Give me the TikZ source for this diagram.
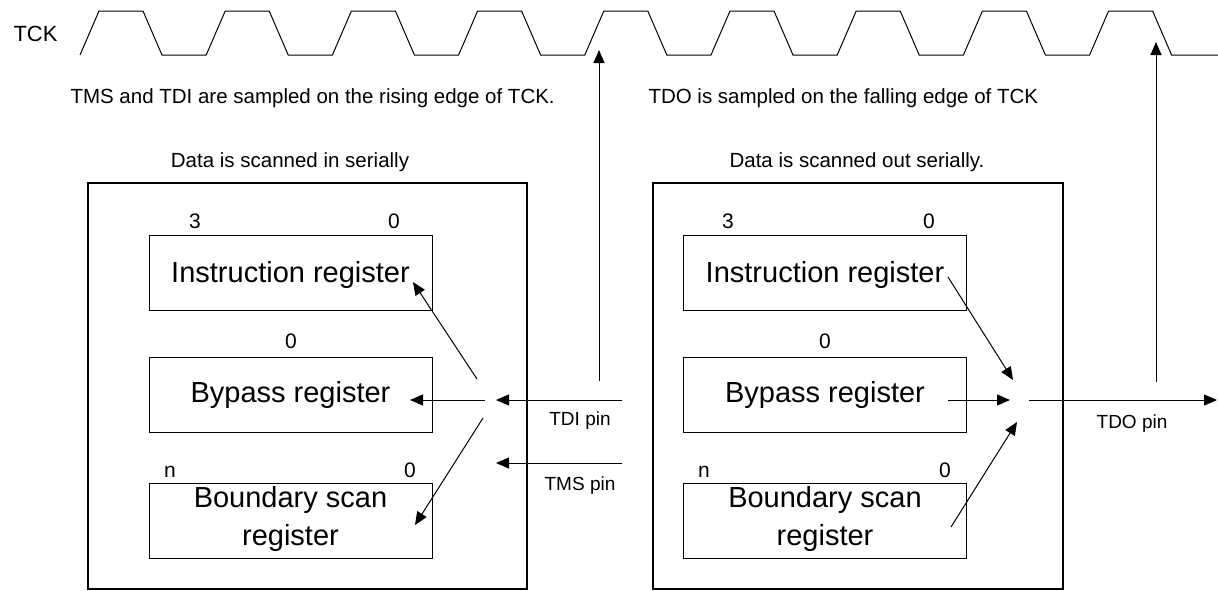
\documentclass[tikz,border=0pt]{standalone}
\usepackage{fontspec}
\setmainfont{Liberation Sans}
\usetikzlibrary{arrows.meta}
\begin{document}
\begin{tikzpicture}[x=1pt,y=-1pt,line width=1pt,
  chip/.style={draw,line width=2pt,inner sep=0pt,anchor=north west,
    minimum width=#1,minimum height=406pt},
  reg/.style={draw,line width=1pt,inner sep=0pt,anchor=north west,
    minimum width=283pt,minimum height=75pt},
  regtext/.style={anchor=base,inner sep=0pt,font=\fontsize{29}{34}\selectfont},
  bitno/.style={anchor=base,inner sep=0pt,font=\fontsize{21}{25}\selectfont},
  note/.style={inner sep=0pt,font=\fontsize{20.5}{24}\selectfont},
  pinlabel/.style={anchor=base,inner sep=0pt,font=\fontsize{19}{22}\selectfont},
  sig/.style={-{Triangle[length=13pt,width=11pt]},line width=1pt}]

% canvas
\fill[white] (0,0) rectangle (1218,590);
\useasboundingbox (0,0) rectangle (1218,590);

% clock waveform
\node[anchor=base west,inner sep=0pt,font=\fontsize{22}{26}\selectfont] (tck) at (13,41) {TCK};
\draw[line width=1pt,line join=miter] (80,55)
  foreach \k in {1,...,9} { -- ++(19,-44) -- ++(44,0) -- ++(19,44) -- ++(44.2,0) }
  -- (1218,55);

% sampling notes
\node[note,anchor=base west] (riseNote) at (70,103) {TMS and TDI are sampled on the rising edge of TCK.};
\node[note,anchor=base west] (fallNote) at (648,103) {TDO is sampled on the falling edge of TCK};

% device boundaries
\node[note,anchor=base] (inNote) at (290,167) {Data is scanned in serially};
\node[note,anchor=base] (outNote) at (857,167) {Data is scanned out serially.};
\node[chip=439pt] (chipL) at (87,182) {};
\node[chip=410pt] (chipR) at (652,182) {};

% registers, input side
\node[reg] (irL) at (149,235) {};
\node[reg] (bpL) at (149,357) {};
\node[reg] (bsL) at (149,483) {};
\node[regtext] (irLt) at (290.5,282) {Instruction register};
\node[regtext] (bpLt) at (290.5,402) {Bypass register};
\node[regtext] (bsLt) at (290.5,507) {Boundary scan};
\node[regtext] (bsLt2) at (290.5,545) {register};
\node[bitno] (irL3) at (195,228) {3};
\node[bitno] (irL0) at (394,228) {0};
\node[bitno] (bpL0) at (291,348) {0};
\node[bitno] (bsLn) at (170,477) {n};
\node[bitno] (bsL0) at (410,477) {0};

% registers, output side
\node[reg] (irR) at (683,235) {};
\node[reg] (bpR) at (683,357) {};
\node[reg] (bsR) at (683,483) {};
\node[regtext] (irRt) at (825,282) {Instruction register};
\node[regtext] (bpRt) at (825,402) {Bypass register};
\node[regtext] (bsRt) at (825,507) {Boundary scan};
\node[regtext] (bsRt2) at (825,545) {register};
\node[bitno] (irR3) at (728,228) {3};
\node[bitno] (irR0) at (929,228) {0};
\node[bitno] (bpR0) at (825,348) {0};
\node[bitno] (bsRn) at (704,477) {n};
\node[bitno] (bsR0) at (945,477) {0};

% connection points
\coordinate (tdiPin) at (622,400);
\coordinate (tdiIn) at (496,400);
\coordinate (tmsPin) at (622,463);
\coordinate (tmsIn) at (496,463);
\coordinate (fanIr) at (477,379);
\coordinate (fanBp) at (485,400);
\coordinate (fanBs) at (483,418);
\coordinate (irLin) at (413,282);
\coordinate (bpLin) at (410,400);
\coordinate (bsLin) at (415,525);
\coordinate (irRout) at (948,277);
\coordinate (bpRout) at (948,400);
\coordinate (bsRout) at (951,527);
\coordinate (mergeIr) at (1013,380);
\coordinate (mergeBp) at (1010,400);
\coordinate (mergeBs) at (1017,422);
\coordinate (tdoOut) at (1029,400);
\coordinate (tdoPin) at (1217,400);
\coordinate (riseFoot) at (599,381);
\coordinate (riseEdge) at (599,50);
\coordinate (fallFoot) at (1156,382);
\coordinate (fallEdge) at (1156,42);

% scan-in paths
\draw[sig] (tdiPin) -- (tdiIn);
\draw[sig] (tmsPin) -- (tmsIn);
\draw[sig] (fanIr) -- (irLin);
\draw[sig] (fanBp) -- (bpLin);
\draw[sig] (fanBs) -- (bsLin);
\node[pinlabel] (tdiLbl) at (580,425) {TDI pin};
\node[pinlabel] (tmsLbl) at (580,490) {TMS pin};

% scan-out paths
\draw[sig] (irRout) -- (mergeIr);
\draw[sig] (bpRout) -- (mergeBp);
\draw[sig] (bsRout) -- (mergeBs);
\draw[sig] (tdoOut) -- (tdoPin);
\node[pinlabel] (tdoLbl) at (1132,428) {TDO pin};

% sampling edges
\draw[sig] (riseFoot) -- (riseEdge);
\draw[sig] (fallFoot) -- (fallEdge);
\end{tikzpicture}
\end{document}
